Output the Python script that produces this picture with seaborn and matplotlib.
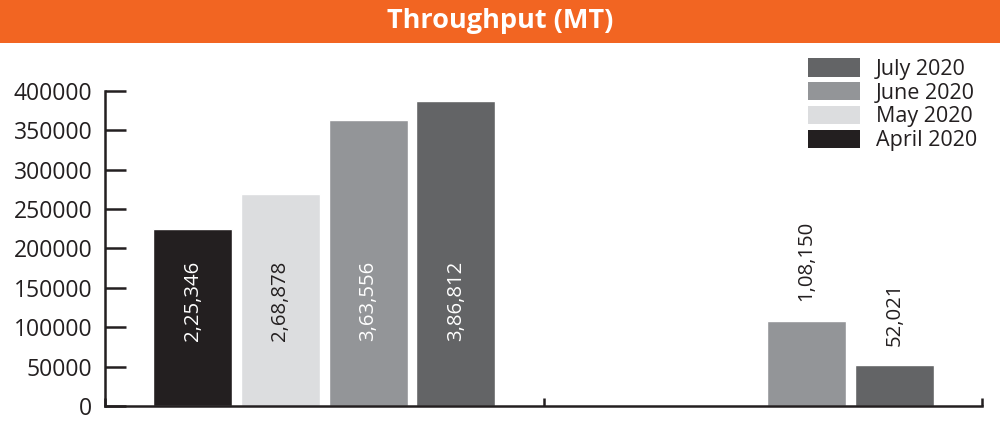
import pandas as pd
import numpy as np
import seaborn as sns
import matplotlib.pyplot as plt
from matplotlib.patches import Rectangle, Patch

# data
categories = ["Group A", "Group B"]
months = ["April 2020", "May 2020", "June 2020", "July 2020"]
group_a = [225346, 268878, 363556, 386812]
group_b = [np.nan, np.nan, 108150, 52021]
bar_labels_a = ["2,25,346", "2,68,878", "3,63,556", "3,86,812"]
bar_labels_b = ["", "", "1,08,150", "52,021"]

colors = ["#231f20", "#dcdddf", "#939598", "#636466"]
label_colors = ["white", "#231f20", "white", "white"]
orange = "#f26522"
dark = "#231f20"

rows = []
for m, a, b, la, lb in zip(months, group_a, group_b, bar_labels_a, bar_labels_b):
    rows.append({"cat": categories[0], "month": m, "value": a, "label": la})
    rows.append({"cat": categories[1], "month": m, "value": b, "label": lb})
df = pd.DataFrame(rows)

sns.set_style("white")
plt.rcParams["font.family"] = ["Open Sans", "DejaVu Sans"]

fig = plt.figure(figsize=(10, 4.29), dpi=100)
ax = fig.add_axes([0.105, 0.0536, 0.877, 0.7344])

# orange title band
fig.patches.append(Rectangle((0, 1 - 43 / 429), 1, 43 / 429, transform=fig.transFigure,
                             facecolor=orange, edgecolor="none", zorder=0))
fig.text(0.5, 1 - 21 / 429, "Throughput (MT)", color="white", fontsize=19.5,
         fontweight="bold", ha="center", va="center")

sns.barplot(data=df, x="cat", y="value", hue="month", order=categories,
            hue_order=months, palette=colors, saturation=1, width=0.8, gap=0.1,
            ax=ax, legend=False, err_kws={"linewidth": 0})

ax.set_xlim(-0.5, 1.5)
ax.set_ylim(0, 400000)
ax.set_yticks(np.arange(0, 400001, 50000))
ax.set_xticks([-0.5, 0.5, 1.5])
ax.set_xticklabels([])
ax.set_xlabel("")
ax.set_ylabel("")
ax.tick_params(axis="y", left=True, direction="in", length=15, width=1.8, color=dark,
               labelsize=16.5, labelcolor=dark, pad=9)
ax.tick_params(axis="x", bottom=True, direction="in", length=6, width=1.8, color=dark)
for s in ["top", "right"]:
    ax.spines[s].set_visible(False)
for s in ["left", "bottom"]:
    ax.spines[s].set_linewidth(1.8)
    ax.spines[s].set_color(dark)

# value labels
lab = {(r["cat"], r["month"]): r["label"] for _, r in df.iterrows()}
for month, lc, cont in zip(months, label_colors, ax.containers):
    for bar in cont:
        h = bar.get_height()
        if not np.isfinite(h) or h == 0:
            continue
        xc = bar.get_x() + bar.get_width() / 2
        cat = categories[int(round(xc))]
        text = lab[(cat, month)]
        if cat == categories[0]:
            ax.annotate(text, (xc, 0), xytext=(0, 47), textcoords="offset points",
                        rotation=90, ha="center", va="bottom", color=lc, fontsize=14.7)
        else:
            ax.annotate(text, (xc, h), xytext=(0, 14), textcoords="offset points",
                        rotation=90, ha="center", va="bottom", color=dark, fontsize=14.7)

handles = [Patch(facecolor=c, edgecolor="none", label=m) for c, m in zip(colors, months)][::-1]
ax.legend(handles=handles, loc="upper left", bbox_to_anchor=(0.808, 1 - 58 / 429),
          bbox_transform=fig.transFigure, frameon=False, borderpad=0, borderaxespad=0,
          fontsize=15.5, handlelength=2.4, handleheight=0.95, handletextpad=0.75,
          labelspacing=0.1, labelcolor=dark)

fig.savefig("out.png", dpi=100)
